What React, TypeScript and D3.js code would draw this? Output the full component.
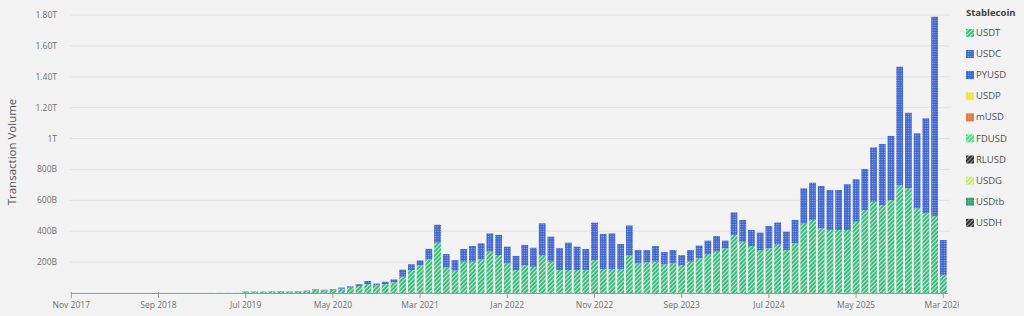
import React from "react";
import * as d3 from "d3";

// ---------- data ----------
const startMonth = new Date(2017, 10, 1); // Nov 2017
const endMonthExclusive = new Date(2026, 3, 1); // through Mar 2026
const months: Date[] = d3.timeMonth.range(startMonth, endMonthExclusive);

// total monthly transaction volume (billions USD)
const totalVolume: number[] = [
  0.2, 0.3, 0.4, 0.4, 0.3, 0.4, 0.4, 0.4, 0.4, 0.4, 0.4, 0.5, 0.5, 0.5, 0.6, 0.6, 0.6, 0.8, 1, 1.2,
  11, 11, 10, 12, 13, 11, 13, 15, 24, 21, 26, 35, 43, 58, 78, 61, 73, 88,
  151, 186, 211, 286, 442, 252, 214, 285, 304, 322, 386, 376, 300, 240, 311,
  293, 451, 365, 291, 326, 300, 285, 455, 383, 386, 317, 437, 278, 278, 304,
  265, 278, 245, 278, 307, 339, 369, 339, 522, 473, 408, 391, 434, 456, 397,
  473, 678, 714, 693, 667, 667, 704, 736, 803, 943, 965, 1017, 1465, 1167,
  1034, 1131, 1789, 343,
];

// USDT share of it (billions USD)
const usdtVolume: number[] = [
  0.2, 0.3, 0.4, 0.4, 0.3, 0.4, 0.4, 0.4, 0.4, 0.4, 0.4, 0.45, 0.45, 0.45, 0.5, 0.5, 0.5, 0.7, 0.9, 1,
  10, 10, 9, 10, 11, 9, 11, 12, 19, 17, 21, 28, 35, 46, 58, 50, 58, 70,
  106, 149, 180, 218, 326, 166, 145, 203, 203, 218, 268, 246, 192, 149, 181,
  170, 246, 203, 149, 149, 149, 149, 214, 155, 155, 155, 242, 192, 199, 203,
  186, 192, 181, 203, 225, 250, 268, 289, 376, 332, 304, 278, 289, 314, 278,
  322, 451, 473, 419, 408, 408, 408, 462, 537, 591, 570, 602, 699, 678, 548,
  516, 499, 117,
];

const usdcVolume: number[] = totalVolume.map((t, i) => Math.max(0, t - usdtVolume[i]));

const xTickLabels = [
  "Nov 2017", "Sep 2018", "Jul 2019", "May 2020", "Mar 2021", "Jan 2022",
  "Nov 2022", "Sep 2023", "Jul 2024", "May 2025", "Mar 2026",
];
const yTickValues = [200, 400, 600, 800, 1000, 1200, 1400, 1600, 1800];
const yTickLabels = ["200B", "400B", "600B", "800B", "1T", "1.20T", "1.40T", "1.60T", "1.80T"];

const legendNames = ["USDT", "USDC", "PYUSD", "USDP", "mUSD", "FDUSD", "RLUSD", "USDG", "USDtb", "USDH"];
const legendColors = ["#3ab579", "#3d63c8", "#2f60dc", "#ece23f", "#ee6a35", "#47d486", "#2b2b2b", "#c3e86b", "#23a06b", "#2d2d2d"];
const legendLight = ["#bdf0d6", "#9fb4f0", "#8aa6f5", "#f8f29a", "#f7ac8d", "#b9f3d2", "#9a9a9a", "#eef8c6", "#8fd9b5", "#9a9a9a"];
const legendKinds = ["hatch", "grid", "grid", "grid", "grid", "hatch", "hatch", "hatch", "grid", "hatch"];

const seriesKeys = ["USDT", "USDC"];

// ---------- layout ----------
const W = 1024;
const H = 316;
const BG = "#f3f3f3";
const FONT = "'Open Sans', 'Noto Sans', sans-serif";

export default function App() {
  const fmt = d3.timeFormat("%b %Y");
  const monthKeys = months.map((m) => fmt(m));

  const step = 8.72;
  const x = d3
    .scaleBand<string>()
    .domain(monthKeys)
    .range([71.3 - step / 2, 71.3 - step / 2 + step * monthKeys.length])
    .paddingInner(0.22)
    .paddingOuter(0.11);

  const y = d3.scaleLinear().domain([0, 1800]).range([293, 15]);

  const rows = monthKeys.map((k, i) => ({ key: k, USDT: usdtVolume[i], USDC: usdcVolume[i] }));
  const stacked = d3.stack<any>().keys(seriesKeys)(rows);

  const patId = (i: number) => `pat-${i}`;

  return (
    <svg
      width={W}
      height={H}
      style={{ position: "fixed", left: 0, top: 0, display: "block" }}
      fontFamily={FONT}
    >
      <defs>
        {legendNames.map((n, i) =>
          legendKinds[i] === "hatch" ? (
            <pattern
              key={n}
              id={patId(i)}
              patternUnits="userSpaceOnUse"
              width={3}
              height={3}
              patternTransform="rotate(45)"
            >
              <rect width={3} height={3} fill={legendColors[i]} />
              <line x1={0.6} y1={0} x2={0.6} y2={3} stroke={legendLight[i]} strokeWidth={1.1} />
            </pattern>
          ) : (
            <pattern key={n} id={patId(i)} patternUnits="userSpaceOnUse" width={2.4} height={2.4}>
              <rect width={2.4} height={2.4} fill={legendColors[i]} />
              <rect x={0.7} y={0.7} width={1.1} height={1.1} fill={legendLight[i]} />
            </pattern>
          )
        )}
        <clipPath id="xlab-clip">
          <rect x={0} y={0} width={959} height={H} />
        </clipPath>
      </defs>

      <rect width={W} height={H} fill={BG} />

      {/* gridlines */}
      {yTickValues.map((v) => (
        <line key={v} x1={70} x2={950} y1={y(v)} y2={y(v)} stroke="#e2e2e2" strokeWidth={1} />
      ))}

      {/* y tick labels */}
      {yTickValues.map((v, i) => (
        <text key={v} x={57} y={y(v)} dy="0.35em" textAnchor="end" fontSize={8.5} fill="#707070">
          {yTickLabels[i]}
        </text>
      ))}

      {/* y title */}
      <text
        transform={`translate(12,152) rotate(-90)`}
        textAnchor="middle"
        fontSize={11.5}
        fill="#555"
        dy="0.35em"
      >
        Transaction Volume
      </text>

      {/* bars */}
      {stacked.map((s, si) => (
        <g key={s.key} fill={`url(#${patId(si)})`}>
          {s.map((d: any) => {
            const y0 = y(d[0]);
            const y1 = y(d[1]);
            const h = Math.max(0, y0 - y1);
            if (h <= 0) return null;
            return <rect key={d.data.key} x={x(d.data.key)} y={y1} width={x.bandwidth()} height={h} />;
          })}
        </g>
      ))}

      {/* x axis */}
      <line x1={71} x2={948} y1={293.5} y2={293.5} stroke="#9a9a9a" strokeWidth={1} />
      <g clipPath="url(#xlab-clip)">
        {xTickLabels.map((lab) => {
          const cx = (x(lab) ?? 0) + x.bandwidth() / 2;
          return (
            <g key={lab}>
              <line x1={cx} x2={cx} y1={292} y2={298} stroke="#9a9a9a" strokeWidth={1} />
              <text x={cx} y={308} textAnchor="middle" fontSize={8.5} fill="#707070">
                {lab}
              </text>
            </g>
          );
        })}
      </g>

      {/* legend */}
      <text x={966} y={16} fontSize={9.5} fontWeight="bold" fill="#404040">
        Stablecoin
      </text>
      {legendNames.map((n, i) => {
        const cy = 32.7 + i * 21.1;
        return (
          <g key={n}>
            <rect x={966} y={cy - 3.8} width={8} height={8} fill={`url(#${patId(i)})`} />
            <text x={976} y={cy} dy="0.35em" fontSize={9.5} fill="#505050">
              {n}
            </text>
          </g>
        );
      })}
    </svg>
  );
}
